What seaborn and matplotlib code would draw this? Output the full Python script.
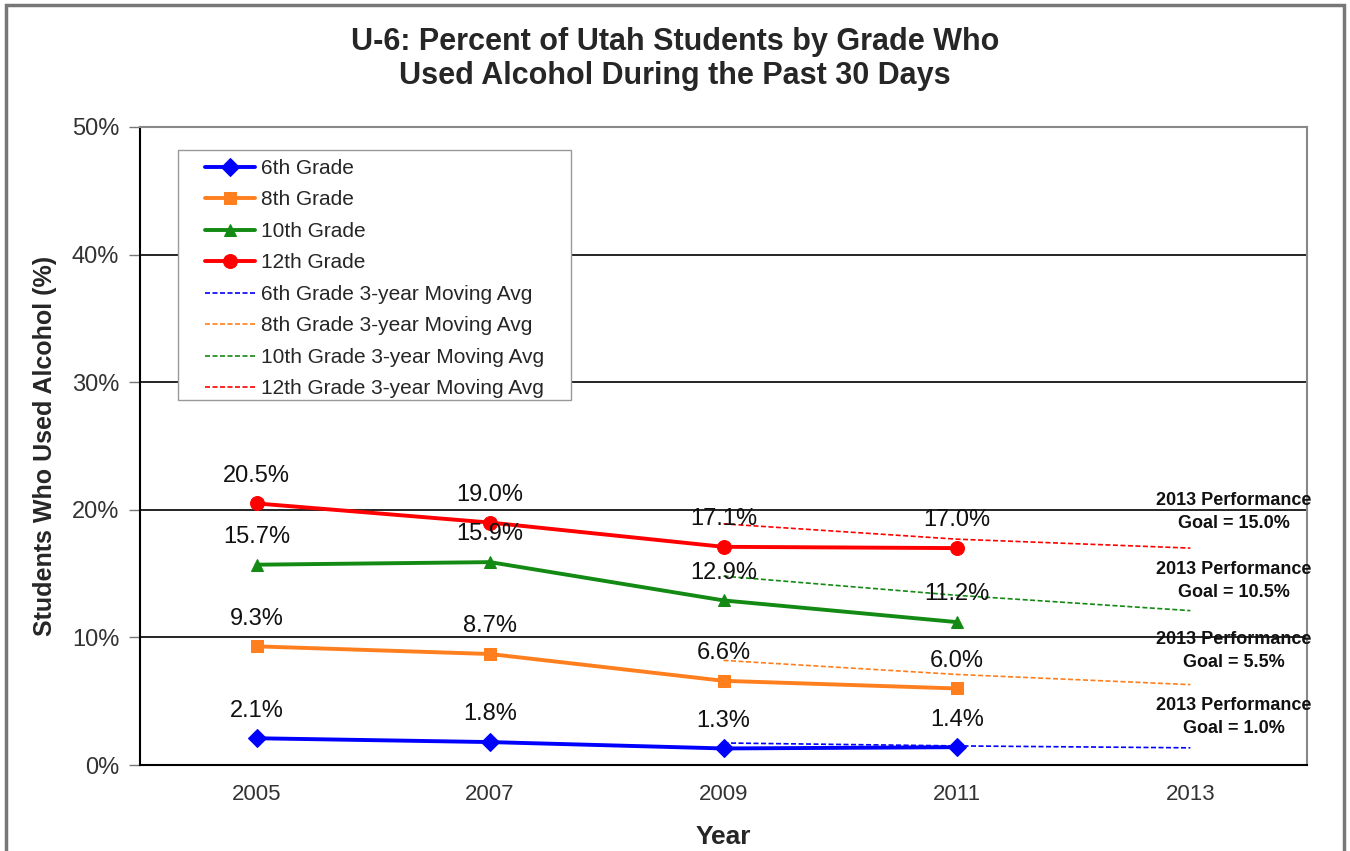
import numpy as np
import pandas as pd
import seaborn as sns
import matplotlib.pyplot as plt
import matplotlib.patches as patches
from matplotlib.ticker import FixedLocator, FuncFormatter

YEARS = [2005, 2007, 2009, 2011]
AVG_YEARS = [2009, 2011, 2013]

GRADE_6 = [2.1, 1.8, 1.3, 1.4]
GRADE_8 = [9.3, 8.7, 6.6, 6.0]
GRADE_10 = [15.7, 15.9, 12.9, 11.2]
GRADE_12 = [20.5, 19.0, 17.1, 17.0]

AVG_6 = [1.73, 1.5, 1.35]
AVG_8 = [8.2, 7.1, 6.3]
AVG_10 = [14.8, 13.3, 12.1]
AVG_12 = [18.9, 17.7, 17.0]

GOALS = ["Goal = 15.0%", "Goal = 10.5%", "Goal = 5.5%", "Goal = 1.0%"]
GOAL_Y = [19.85, 14.45, 8.95, 3.75]

SERIES = [
    ("6th Grade", GRADE_6, AVG_6, "#0000FF", "D"),
    ("8th Grade", GRADE_8, AVG_8, "#FF7F1E", "s"),
    ("10th Grade", GRADE_10, AVG_10, "#138A13", "^"),
    ("12th Grade", GRADE_12, AVG_12, "#FF0000", "o"),
]

sns.set_style("white")
plt.rcParams['font.family'] = ['Liberation Sans', 'DejaVu Sans']

fig = plt.figure(figsize=(13.5, 8.51), dpi=100)
ax = fig.add_axes([0.1037, 0.101, 0.8645, 0.7498])

for name, vals, _, color, mk in SERIES:
    df = pd.DataFrame({"year": YEARS, "pct": vals})
    sns.lineplot(data=df, x="year", y="pct", color=color, marker=mk,
                 markersize=9 if mk != "o" else 10, markeredgecolor=color,
                 linewidth=2.8, label=name, ax=ax)

for name, _, avg, color, mk in SERIES:
    df = pd.DataFrame({"year": AVG_YEARS, "pct": avg})
    sns.lineplot(data=df, x="year", y="pct", color=color, linewidth=1.2,
                 linestyle=(0, (3, 1.5)), label=f"{name} 3-year Moving Avg", ax=ax)

# data labels
for name, vals, _, color, mk in SERIES:
    for x, v in zip(YEARS, vals):
        ax.annotate(f"{v:.1f}%", (x, v), xytext=(0, 12), textcoords="offset points",
                    ha="center", va="bottom", fontsize=17, color="#111111")

# goal labels
for g, y in zip(GOALS, GOAL_Y):
    ax.text(2013.37, y, "2013 Performance\n" + g, ha="center", va="center",
            fontsize=13, fontweight="bold", linespacing=1.45, color="#111111")

ax.set_xlim(2004, 2014)
ax.set_ylim(0, 50)
ax.xaxis.set_major_locator(FixedLocator([2005, 2007, 2009, 2011, 2013]))
ax.xaxis.set_minor_locator(FixedLocator([2004, 2006, 2008, 2010, 2012, 2014]))
ax.yaxis.set_major_locator(FixedLocator([0, 10, 20, 30, 40, 50]))
ax.yaxis.set_major_formatter(FuncFormatter(lambda v, p: f"{v:.0f}%"))
ax.tick_params(axis="x", which="major", length=0, pad=14, labelsize=16, labelcolor="#333333")
ax.tick_params(axis="x", which="minor", length=9, width=1, color="#999999", direction="out")
ax.tick_params(axis="y", length=8, width=1, color="#777777", direction="out", pad=7,
               labelsize=17, labelcolor="#333333", left=True)
ax.grid(axis="y", color="#000000", linewidth=1.2)
ax.set_axisbelow(True)
for s in ["top", "right"]:
    ax.spines[s].set_color("#888888")
    ax.spines[s].set_linewidth(1.5)
for s in ["left", "bottom"]:
    ax.spines[s].set_color("#000000")
    ax.spines[s].set_linewidth(1.5)

ax.set_xlabel("Year", fontsize=19, fontweight="bold", labelpad=14)
ax.set_ylabel("Students Who Used Alcohol (%)", fontsize=18, fontweight="bold")
ax.yaxis.set_label_coords(-0.071, 0.5)

# legend box drawn separately (wider padding than matplotlib's frame)
ax.add_patch(patches.Rectangle((0.0324, 0.572), 0.3371, 0.392, transform=ax.transAxes,
                               facecolor="white", edgecolor="#999999", linewidth=1.0, zorder=4))
leg = ax.legend(loc="upper left", bbox_to_anchor=(0.0555, 0.950), borderaxespad=0,
                fontsize=15, frameon=False, handlelength=2.4,
                handletextpad=0.3, labelspacing=0.6, borderpad=0)
leg.set_zorder(5)

fig.text(0.5, 0.968, "U-6: Percent of Utah Students by Grade Who\nUsed Alcohol During the Past 30 Days",
         ha="center", va="top", fontsize=22, fontweight="bold", linespacing=1.15)

fig.patches.append(patches.Rectangle((6 / 1350, -0.05), 1338 / 1350, 1.05 - 5 / 851,
                                     transform=fig.transFigure, fill=False,
                                     edgecolor="#777777", linewidth=2.5))

fig.savefig("out.png", dpi=100)
